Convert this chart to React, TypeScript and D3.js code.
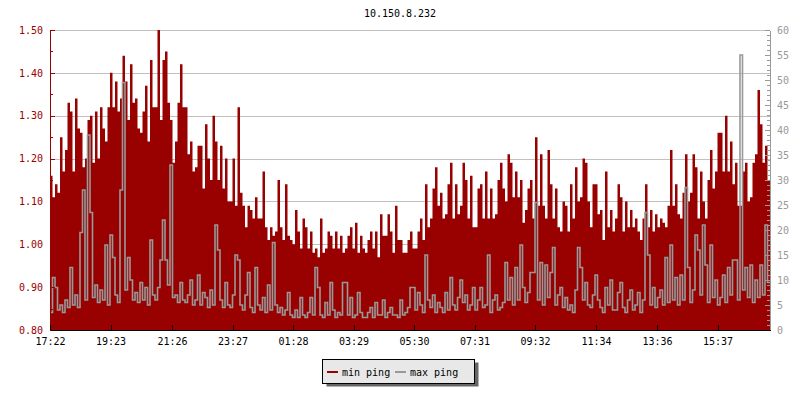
import React, { useRef, useEffect } from "react";
import * as d3 from "d3";

const title = "10.150.8.232";
const seriesNames = ["min ping", "max ping"];
const timeLabels = ["17:22", "19:23", "21:26", "23:27", "01:28", "03:29", "05:30", "07:31", "09:32", "11:34", "13:36", "15:37"];
const leftTicks = [0.8, 0.9, 1.0, 1.1, 1.2, 1.3, 1.4, 1.5];
const rightTicks = [0, 5, 10, 15, 20, 25, 30, 35, 40, 45, 50, 55, 60];
const stepMinutes = 5;

// min ping (left axis), one value per 5 minutes
const minPing = [
  1.16, 1.11, 1.14, 1.12, 1.25, 1.17, 1.22, 1.33, 1.31, 1.17, 1.34, 1.27, 1.26, 1.18, 1.20, 1.29, 1.30, 1.19, 1.31, 1.20,
  1.32, 1.27, 1.24, 1.32, 1.40, 1.32, 1.38, 1.31, 1.34, 1.44, 1.38, 1.29, 1.42, 1.33, 1.34, 1.27, 1.26, 1.31, 1.37, 1.24,
  1.43, 1.32, 1.32, 1.50, 1.29, 1.43, 1.45, 1.33, 1.29, 1.19, 1.24, 1.33, 1.42, 1.32, 1.32, 1.21, 1.24, 1.17, 1.18, 1.23,
  1.23, 1.13, 1.28, 1.20, 1.15, 1.30, 1.24, 1.15, 1.23, 1.13, 1.20, 1.10, 1.10, 1.20, 1.09, 1.32, 1.12, 1.09, 1.04, 1.09,
  1.08, 1.06, 1.11, 1.06, 1.06, 1.17, 1.04, 1.01, 1.04, 1.02, 1.03, 1.15, 1.04, 1.01, 1.14, 1.02,
  1.01, 1.00, 1.08, 1.03, 0.99, 1.06, 1.04, 0.99, 1.03, 0.98, 0.99, 0.97, 1.06, 0.98, 0.99, 1.03, 1.02, 0.99, 1.03, 0.99,
  1.02, 0.98, 0.99, 1.02, 1.04, 0.99, 1.05, 0.98, 1.02, 0.99, 0.98, 1.01, 1.03, 0.99, 1.03, 0.97, 1.07, 1.02, 1.02, 1.07,
  1.03, 0.98, 1.09, 1.01, 1.01, 0.98, 0.98, 1.01, 1.03, 0.99, 0.99, 1.03, 1.06, 1.01, 1.14, 1.04, 1.06, 1.13, 1.18, 1.09,
  1.12, 1.06, 1.07, 1.14, 1.19, 1.06, 1.14, 1.07, 1.09, 1.19, 1.15, 1.06, 1.16, 1.04, 1.04, 1.13, 1.14, 1.06, 1.17, 1.06,
  1.13, 1.06, 1.07, 1.15, 1.19, 1.13, 1.10, 1.21, 1.19, 1.11, 1.17, 1.11, 1.15, 1.05, 1.08, 1.13, 1.15, 1.06,
  1.25, 1.09, 1.21, 1.09, 1.06, 1.22, 1.14, 1.06, 1.13, 1.04, 1.03, 1.10, 1.09, 1.03, 1.14, 1.06, 1.18, 1.10, 1.11, 1.20,
  1.19, 1.10, 1.04, 1.14, 1.14, 1.07, 1.08, 1.01, 1.17, 1.04, 1.08, 1.03, 1.06, 1.14, 1.11, 1.03, 1.10, 1.04, 1.08, 1.04,
  1.06, 1.03, 1.01, 1.06, 1.14, 1.04, 1.08, 1.03, 1.07, 1.04, 1.06, 1.05, 1.04, 1.09, 1.22, 1.09, 1.14, 1.07, 1.06, 1.12,
  1.21, 1.10, 1.12, 1.21, 1.18, 1.06, 1.17, 1.10, 1.06, 1.15, 1.22, 1.13, 1.17, 1.26, 1.26, 1.17, 1.30, 1.17, 1.24, 1.14,
  1.19, 1.09, 1.09, 1.17, 1.19, 1.10, 1.11, 1.19, 1.21, 1.36, 1.28, 1.19, 1.23, 1.15,
];

// max ping (right axis), same time steps
const maxPing = [
  3.5, 10.5, 8.5, 4, 5, 3.5, 6, 4.5, 12.5, 5, 7, 4.5, 19.5, 28, 6, 39, 23.5, 6.5, 9, 5.5,
  8, 6, 17, 5, 19, 14.5, 7, 5.5, 28, 49.5, 8, 14.5, 10, 6, 7.5, 5.5, 9.5, 6, 8.5, 5,
  18, 7, 6, 8.5, 14, 22, 14, 9, 33, 6.5, 7, 5.5, 9.5, 6, 5.5, 7, 10, 5, 6, 11,
  5, 7.5, 6.5, 4.5, 8, 5, 21, 16, 6, 4.5, 9.5, 5, 4.5, 7, 15, 14, 5, 4, 7, 11.5,
  4.5, 3.5, 12.5, 5, 4, 6.5, 3.5, 9, 4, 17.5, 5, 3.5, 4.5, 3, 4, 7.5,
  3, 2.5, 4, 2.5, 6.5, 3, 2.5, 3.5, 6.5, 3, 12.5, 8.5, 3, 2.5, 5.5, 3, 9.5, 4, 2.5, 3.5,
  3, 9.5, 9.5, 3, 6.5, 2.5, 3, 7.5, 3.5, 2.5, 2.5, 3.5, 4.5, 2.5, 5.5, 3, 3, 6, 2.5, 3.5,
  4.5, 3, 3, 2.5, 6, 3, 3.5, 4.5, 8.5, 8.5, 4, 7.5, 5, 3.5, 15, 6, 4.5, 7, 3.5, 5.5,
  4.5, 3.5, 7.5, 4, 10.5, 5, 4, 6.5, 10, 5.5, 7, 4, 5, 8.5, 4, 6, 8.5, 4.5, 5, 15,
  3.5, 6, 7, 4, 4.5, 5.5, 13.5, 6, 10.5, 5, 12.5, 6, 17, 8.5, 5.5, 7.5, 11.5, 11.5,
  25.5, 6, 13.5, 5, 13, 6.5, 11.5, 16.5, 5, 7, 8.5, 4.5, 6.5, 4, 5, 3.5, 8, 16.5, 12.5, 6,
  9.5, 5, 4.5, 7, 11, 6, 4.5, 3.5, 8.5, 5, 10, 4, 4, 7.5, 9.5, 4.5, 3.5, 6, 8, 4,
  5, 7.5, 3.5, 6, 23.5, 15, 5, 8.5, 4.5, 6.5, 8, 5, 14.5, 5.5, 17, 6, 10.5, 5, 11, 6,
  28.5, 12.5, 5.5, 8, 19, 16, 7, 21, 13, 5.5, 17, 6.5, 10, 5, 6.5, 11, 5.5, 12.5, 7, 14,
  14, 6, 55, 8, 12.5, 6.5, 13, 5.5, 10, 6.5, 13, 7, 21, 9.5,
];

const RED = "#990000";
const GRAY = "#999999";
const FONT = "'DejaVu Sans Mono', monospace";

const App: React.FC = () => {
  const svgRef = useRef<SVGSVGElement | null>(null);

  useEffect(() => {
    const svg = d3.select(svgRef.current);
    svg.selectAll("*").remove();

    const left = 50, right = 770, top = 30, bottom = 330;
    const start = new Date(2000, 0, 1, 17, 22);
    const end = d3.timeMinute.offset(start, minPing.length * stepMinutes);
    const timeAt = (i: number) => d3.timeMinute.offset(start, i * stepMinutes);

    const x = d3.scaleTime().domain([start, end]).range([left, right]);
    const yL = d3.scaleLinear().domain([0.8, 1.5]).range([bottom, top]);
    const yR = d3.scaleLinear().domain([0, 60]).range([bottom, top]);

    const tickDates = timeLabels.map((s) => {
      const [h, m] = s.split(":").map(Number);
      const d = new Date(2000, 0, 1, h, m);
      return h * 60 + m < 17 * 60 + 22 ? d3.timeDay.offset(d, 1) : d;
    });

    svg.append("rect").attr("width", 800).attr("height", 400).attr("fill", "#fff");

    // title
    svg
      .append("text")
      .attr("x", 400)
      .attr("y", 17)
      .attr("text-anchor", "middle")
      .attr("font-family", FONT)
      .attr("font-size", 10)
      .text(title);

    // grid
    svg
      .append("g")
      .selectAll("line")
      .data(leftTicks.slice(1))
      .enter()
      .append("line")
      .attr("x1", left)
      .attr("x2", right)
      .attr("y1", (d) => Math.round(yL(d)) + 0.5)
      .attr("y2", (d) => Math.round(yL(d)) + 0.5)
      .attr("stroke", "#c0c0c0");

    // min ping area (stepped, like rrd columns)
    const minPts = minPing.map((v, i) => ({ t: timeAt(i), v }));
    minPts.push({ t: end, v: minPing[minPing.length - 1] });
    svg
      .append("path")
      .datum(minPts)
      .attr("fill", RED)
      .attr(
        "d",
        d3
          .area<{ t: Date; v: number }>()
          .curve(d3.curveStepAfter)
          .x((d) => x(d.t))
          .y0(bottom)
          .y1((d) => yL(d.v))
      );

    // max ping line
    const maxPts = maxPing.map((v, i) => ({ t: timeAt(i), v }));
    maxPts.push({ t: end, v: maxPing[maxPing.length - 1] });
    svg
      .append("path")
      .datum(maxPts)
      .attr("fill", "none")
      .attr("stroke", GRAY)
      .attr("stroke-width", 1.6)
      .attr(
        "d",
        d3
          .line<{ t: Date; v: number }>()
          .curve(d3.curveStepAfter)
          .x((d) => x(d.t))
          .y((d) => yR(d.v))
      );

    const styleAxis = (g: d3.Selection<SVGGElement, unknown, null, undefined>, color: string, textColor: string) => {
      g.attr("font-family", FONT).attr("font-size", 10).attr("shape-rendering", "crispEdges");
      g.selectAll("path, line").attr("stroke", color);
      g.selectAll("text").attr("fill", textColor);
    };

    // left axis
    const minorL = d3.range(0.85, 1.5, 0.1);
    svg
      .append("g")
      .attr("transform", `translate(${left},0)`)
      .call(d3.axisLeft(yL).tickValues(minorL).tickSize(-3).tickSizeOuter(0).tickFormat(() => ""))
      .call((g) => styleAxis(g, RED, RED));
    svg
      .append("g")
      .attr("transform", `translate(${left},0)`)
      .call(d3.axisLeft(yL).tickValues(leftTicks).tickSize(-5).tickSizeOuter(0).tickPadding(7).tickFormat(d3.format(".2f")))
      .call((g) => styleAxis(g, RED, RED));

    // right axis
    svg
      .append("g")
      .attr("transform", `translate(${right},0)`)
      .call(d3.axisRight(yR).tickValues(d3.range(0, 61, 1)).tickSize(-3).tickSizeOuter(0).tickFormat(() => ""))
      .call((g) => styleAxis(g, GRAY, GRAY));
    svg
      .append("g")
      .attr("transform", `translate(${right},0)`)
      .call(d3.axisRight(yR).tickValues(rightTicks).tickSize(-5).tickSizeOuter(0).tickPadding(7))
      .call((g) => styleAxis(g, GRAY, GRAY));

    // bottom axis
    svg
      .append("g")
      .attr("transform", `translate(0,${bottom})`)
      .call(
        d3
          .axisBottom(x)
          .tickValues(tickDates)
          .tickSize(-5)
          .tickSizeOuter(0)
          .tickPadding(8)
          .tickFormat((_, i) => timeLabels[i])
      )
      .call((g) => styleAxis(g, "#000", "#000"));

    // legend
    const lg = svg.append("g").attr("font-family", FONT).attr("font-size", 10);
    lg.append("rect").attr("x", 326.5).attr("y", 362.5).attr("width", 152).attr("height", 24).attr("fill", "#666");
    lg.append("rect")
      .attr("x", 322.5)
      .attr("y", 359.5)
      .attr("width", 152)
      .attr("height", 24)
      .attr("fill", "#e8e8e8")
      .attr("stroke", "#000");
    const colors = [RED, GRAY];
    const offsets = [327, 395];
    seriesNames.forEach((name, i) => {
      lg.append("line")
        .attr("x1", offsets[i])
        .attr("x2", offsets[i] + 11)
        .attr("y1", 372)
        .attr("y2", 372)
        .attr("stroke", colors[i])
        .attr("stroke-width", 2);
      lg.append("text")
        .attr("x", offsets[i] + 15)
        .attr("y", 375.5)
        .text(name);
    });
  }, []);

  return (
    <svg
      ref={svgRef}
      width={800}
      height={400}
      style={{ position: "absolute", left: 0, top: 0 }}
    ></svg>
  );
};

export default App;
